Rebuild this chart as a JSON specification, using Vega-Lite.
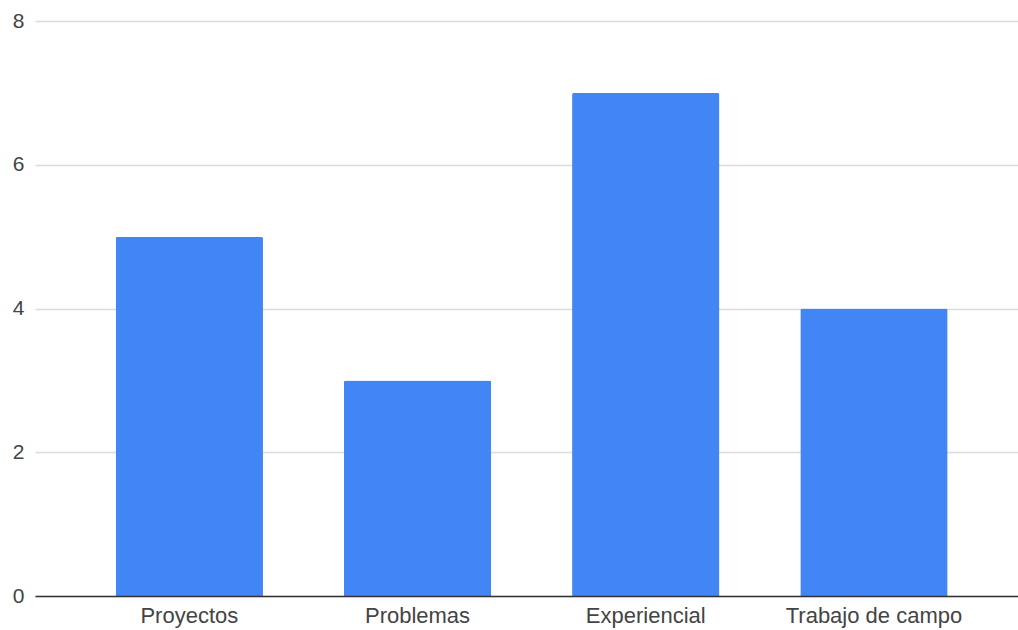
{
  "$schema": "https://vega.github.io/schema/vega-lite/v6.json",
  "autosize": "none",
  "padding": {"left": 35, "top": 21, "right": 0, "bottom": 34},
  "width": 983,
  "height": 575,
  "background": "white",
  "config": {
    "view": {"stroke": null},
    "font": "Liberation Sans"
  },
  "data": {
    "values": [
      {"categoria": "Proyectos", "valor": 5},
      {"categoria": "Problemas", "valor": 3},
      {"categoria": "Experiencial", "valor": 7},
      {"categoria": "Trabajo de campo", "valor": 4}
    ]
  },
  "mark": {"type": "bar", "color": "#4285F4", "cornerRadiusTopLeft": 2, "cornerRadiusTopRight": 2},
  "encoding": {
    "x": {
      "field": "categoria",
      "type": "nominal",
      "sort": null,
      "scale": {"paddingInner": 0.3545, "paddingOuter": 0.331, "align": 0.534},
      "axis": {
        "title": null,
        "labelAngle": 0,
        "ticks": false,
        "domainColor": "#333333",
        "domainWidth": 1.5,
        "zindex": 1,
        "labelFont": "Liberation Sans",
        "labelFontSize": 22,
        "labelColor": "#444444",
        "labelPadding": 9,
        "grid": false
      }
    },
    "y": {
      "field": "valor",
      "type": "quantitative",
      "scale": {"domain": [0, 8], "nice": false},
      "axis": {
        "title": null,
        "values": [0, 2, 4, 6, 8],
        "ticks": false,
        "domain": false,
        "gridColor": "#dcdcdc",
        "gridWidth": 1.5,
        "labelFont": "Liberation Sans",
        "labelFontSize": 21,
        "labelColor": "#444444",
        "labelPadding": 11
      }
    }
  }
}
